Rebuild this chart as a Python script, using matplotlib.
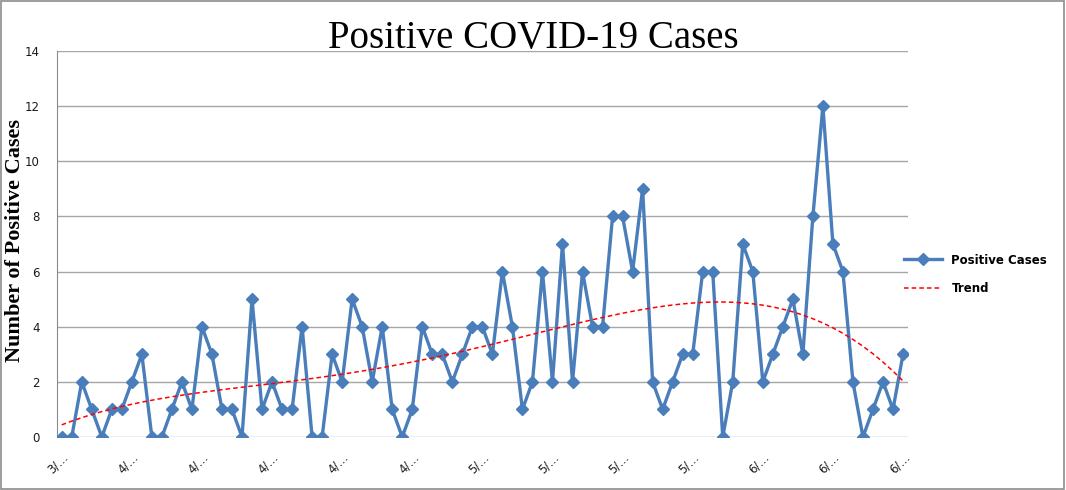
import matplotlib
matplotlib.use("Agg")
import matplotlib.pyplot as plt
from matplotlib.patches import Rectangle
import numpy as np

# daily positive cases (85 days)
cases = [0, 0, 2, 1, 0, 1, 1, 2, 3, 0,
         0, 1, 2, 1, 4, 3, 1, 1, 0, 5,
         1, 2, 1, 1, 4, 0, 0, 3, 2, 5,
         4, 2, 4, 1, 0, 1, 4, 3, 3, 2,
         3, 4, 4, 3, 6, 4, 1, 2, 6, 2,
         7, 2, 6, 4, 4, 8, 8, 6, 9, 2,
         1, 2, 3, 3, 6, 6, 0, 2, 7, 6,
         2, 3, 4, 5, 3, 8, 12, 7, 6, 2,
         0, 1, 2, 1, 3]
# every 7th category gets a (truncated) date label
tick_labels = ["3/…", "4/…", "4/…", "4/…", "4/…", "4/…", "5/…",
               "5/…", "5/…", "5/…", "6/…", "6/…", "6/…"]
tick_step = 7
trend_order = 4  # polynomial trendline, like Excel's

BLUE = "#4a7ebb"

x = np.arange(len(cases))
coef = np.polyfit(x, cases, trend_order)
trend = np.polyval(coef, x)

fig = plt.figure(figsize=(10.66, 4.90), dpi=100)
ax = fig.add_axes([0.0532, 0.1082, 0.7986, 0.7877])

ax.plot(x, cases, color=BLUE, lw=2.4, marker="D", markersize=6.5,
        label="Positive Cases", zorder=3)
ax.plot(x, trend, color="red", lw=1.1, ls=(0, (3, 2)), label="Trend", zorder=4)

ax.set_xlim(-0.5, len(cases) - 0.5)
ax.set_ylim(0, 14)
ax.set_yticks(range(0, 15, 2))
ax.yaxis.grid(True, color="#a6a6a6", lw=1.0)
ax.set_axisbelow(True)

ax.set_xticks(x[::tick_step])
ax.set_xticklabels(tick_labels, rotation=45, ha="right", rotation_mode="anchor",
                   fontsize=8.5, color="#1a1a1a")
ax.tick_params(axis="x", length=0, pad=10)
ax.tick_params(axis="y", length=0, labelsize=8.5, labelcolor="#1a1a1a", pad=12)

for s in ["top", "right", "bottom"]:
    ax.spines[s].set_visible(False)
ax.spines["left"].set_color("#8c8c8c")

fig.text(15 / 1066, 1 - 240 / 490, "Number of Positive Cases", family="Liberation Serif",
         fontsize=16, fontweight="bold", rotation=90, ha="center", va="center")
fig.text(0.5, 1 - 48 / 490, "Positive COVID-19 Cases", family="Liberation Serif",
         fontsize=28, ha="center", va="baseline")

leg = ax.legend(loc="center left", bbox_to_anchor=(0.983, 0.421), frameon=False,
                handlelength=3.2, labelspacing=1.35,
                prop={"size": 8.5, "weight": "bold"})

# chart border
fig.patches.append(Rectangle((0.001, 0.002), 0.997, 0.995, transform=fig.transFigure,
                             fill=False, ec="#8c8c8c", lw=1.2))

fig.savefig("out.png", dpi=100)
